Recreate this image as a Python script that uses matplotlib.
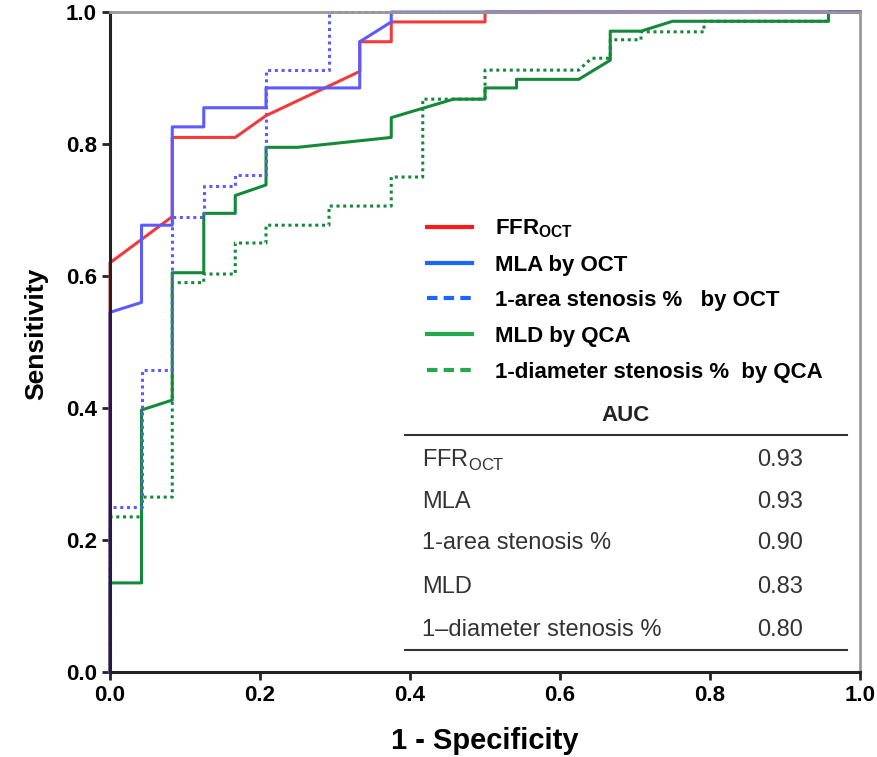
import matplotlib
matplotlib.use("Agg")
import matplotlib.pyplot as plt
from matplotlib.lines import Line2D

plt.rcParams['font.family'] = ['Liberation Sans', 'DejaVu Sans']
plt.rcParams['mathtext.fontset'] = 'custom'
plt.rcParams['mathtext.rm'] = 'Liberation Sans'
plt.rcParams['mathtext.bf'] = 'Liberation Sans:bold'

# ROC curves (1 - specificity, sensitivity)
ffr_x = [0, 0, 0.083, 0.083, 0.167, 0.208, 0.333, 0.333, 0.375, 0.375, 0.5, 0.5, 1.0]
ffr_y = [0, 0.62, 0.69, 0.81, 0.81, 0.843, 0.91, 0.955, 0.955, 0.985, 0.985, 1.0, 1.0]

mla_x = [0, 0, 0.042, 0.042, 0.083, 0.083, 0.125, 0.125, 0.208, 0.208, 0.333, 0.333, 0.375, 0.375, 1.0]
mla_y = [0, 0.545, 0.56, 0.677, 0.677, 0.826, 0.826, 0.855, 0.855, 0.885, 0.885, 0.955, 0.985, 1.0, 1.0]

area_x = [0, 0, 0.042, 0.042, 0.083, 0.083, 0.125, 0.125, 0.167, 0.167, 0.208, 0.208, 0.292, 0.292, 1.0]
area_y = [0, 0.25, 0.25, 0.458, 0.458, 0.69, 0.69, 0.737, 0.737, 0.753, 0.753, 0.912, 0.912, 1.0, 1.0]

mld_x = [0, 0, 0.042, 0.042, 0.083, 0.083, 0.125, 0.125, 0.167, 0.167, 0.208, 0.208, 0.25, 0.375,
         0.375, 0.458, 0.5, 0.5, 0.542, 0.542, 0.625, 0.667, 0.667, 0.708, 0.75, 0.958, 0.958, 1.0]
mld_y = [0, 0.135, 0.135, 0.397, 0.412, 0.605, 0.605, 0.695, 0.695, 0.722, 0.738, 0.795, 0.795, 0.81,
         0.84, 0.868, 0.868, 0.885, 0.885, 0.898, 0.898, 0.927, 0.971, 0.971, 0.986, 0.986, 1.0, 1.0]

diam_x = [0, 0, 0.042, 0.042, 0.083, 0.083, 0.125, 0.125, 0.167, 0.167, 0.208, 0.208, 0.292, 0.292,
          0.375, 0.375, 0.417, 0.417, 0.5, 0.5, 0.625, 0.642, 0.667, 0.667, 0.708, 0.708, 0.792, 0.792,
          0.958, 0.958, 1.0]
diam_y = [0, 0.235, 0.235, 0.265, 0.265, 0.59, 0.59, 0.603, 0.603, 0.65, 0.65, 0.677, 0.677, 0.706,
          0.706, 0.75, 0.75, 0.868, 0.868, 0.912, 0.912, 0.93, 0.93, 0.958, 0.958, 0.97, 0.97, 0.986,
          0.986, 1.0, 1.0]

auc_names = ['FFR$_{\\mathrm{OCT}}$', 'MLA', '1-area stenosis %', 'MLD', '1\u2013diameter stenosis %']
auc_values = ['0.93', '0.93', '0.90', '0.83', '0.80']

legend_labels = ['$\\mathbf{FFR_{OCT}}$', 'MLA by OCT', '1-area stenosis %   by OCT',
                 'MLD by QCA', '1-diameter stenosis %  by QCA']

fig = plt.figure(figsize=(8.78, 7.57), dpi=100)
ax = fig.add_axes([0.1253, 0.1123, 0.8542, 0.8718])

red = '#f23a3a'
blue = '#5b5bff'
green = '#15893a'
lw = 2.2

ax.plot(diam_x, diam_y, color=green, lw=lw, ls=(0, (1, 1.2)), clip_on=False)
ax.plot(mld_x, mld_y, color=green, lw=lw, clip_on=False)
ax.plot(area_x, area_y, color=blue, lw=lw, ls=(0, (1, 1.2)), clip_on=False)
ax.plot(ffr_x, ffr_y, color=red, lw=lw, clip_on=False)
ax.plot(mla_x, mla_y, color=blue, lw=lw, clip_on=False)
# darker overlap on the y axis and top edge
ax.plot([0, 0], [0, 0.545], color='#2a2a9a', lw=1.6, clip_on=False)
ax.plot([0.375, 1.0], [1.0, 1.0], color='#2a2a9a', lw=1.8, clip_on=False)

ax.set_xlim(0, 1)
ax.set_ylim(0, 1)
ax.set_xticks([0, 0.2, 0.4, 0.6, 0.8, 1.0])
ax.set_yticks([0, 0.2, 0.4, 0.6, 0.8, 1.0])
ax.set_xticklabels(['0.0', '0.2', '0.4', '0.6', '0.8', '1.0'], fontsize=16, fontweight='bold')
ax.set_yticklabels(['0.0', '0.2', '0.4', '0.6', '0.8', '1.0'], fontsize=16, fontweight='bold')
ax.tick_params(width=2, length=6, color='#222222')
for s in ['left', 'bottom']:
    ax.spines[s].set_linewidth(2.2)
    ax.spines[s].set_color('#222222')
for s in ['top', 'right']:
    ax.spines[s].set_linewidth(2)
    ax.spines[s].set_color('#999999')

ax.set_xlabel('1 - Specificity', fontsize=21, fontweight='bold', labelpad=15)
ax.set_ylabel('Sensitivity', fontsize=19, fontweight='bold')
ax.yaxis.set_label_coords(-0.083, 0.513)

handles = [Line2D([], [], color='#ff1a1a', lw=3),
           Line2D([], [], color='#1a66ff', lw=3),
           Line2D([], [], color='#1a66ff', lw=3, ls=(0, (2.5, 1.5))),
           Line2D([], [], color='#22aa4a', lw=3),
           Line2D([], [], color='#22aa4a', lw=3, ls=(0, (2.5, 1.5)))]
leg = ax.legend(handles, legend_labels, loc='upper left', bbox_to_anchor=(0.4227, 0.689),
                frameon=False, borderpad=0, borderaxespad=0,
                handlelength=2.03, handletextpad=1.04, labelspacing=0.66,
                prop={'weight': 'bold', 'size': 16})

# AUC table
ax.text(0.688, 0.389, 'AUC', transform=ax.transAxes, ha='center', va='center',
        fontsize=16, fontweight='bold', color='#222222')
ax.plot([0.393, 0.983], [0.359, 0.359], transform=ax.transAxes, color='#333333', lw=1.5, clip_on=False)
ax.plot([0.393, 0.983], [0.033, 0.033], transform=ax.transAxes, color='#333333', lw=1.5, clip_on=False)
row_y = [0.321, 0.258, 0.195, 0.129, 0.064]
for name, val, yy in zip(auc_names, auc_values, row_y):
    ax.text(0.416, yy, name, transform=ax.transAxes, ha='left', va='center', fontsize=17, color='#333333')
    ax.text(0.863, yy, val, transform=ax.transAxes, ha='left', va='center', fontsize=17, color='#333333')

fig.savefig('out.png', dpi=100)
